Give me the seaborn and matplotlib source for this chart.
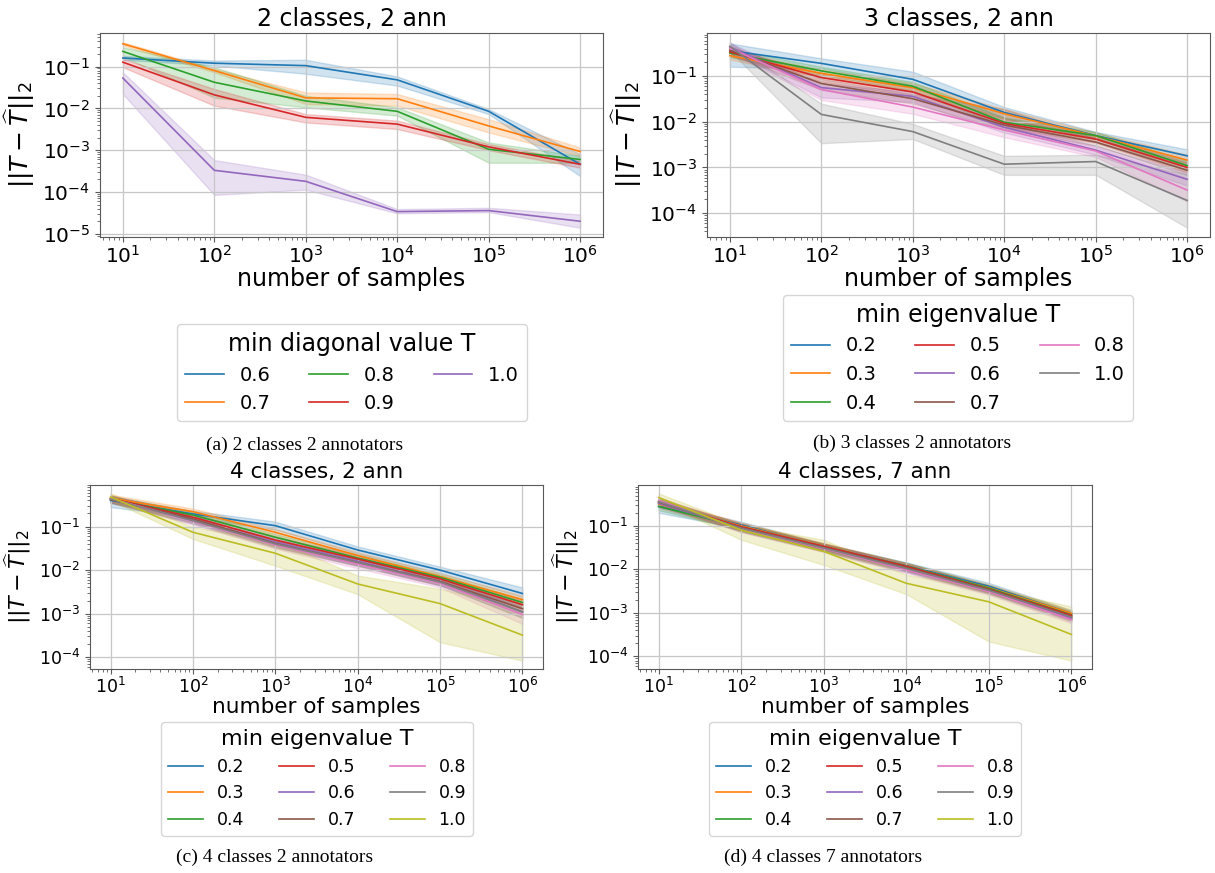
# %%
import pandas as pd
import matplotlib
matplotlib.use("Agg")
import matplotlib.pyplot as plt
import seaborn as sns

# number of samples on the x axis (shared by every panel)
n_samples = [10, 100, 1000, 10000, 100000, 1000000]

# (a) 2 classes, 2 ann  -- min diagonal value T
a_mid = {
    "0.6": [0.16, 0.12, 0.105, 0.048, 0.0085, 0.00046],
    "0.7": [0.35, 0.08, 0.0178, 0.017, 0.0038, 0.00093],
    "0.8": [0.23, 0.042, 0.015, 0.0085, 0.00105, 0.0006],
    "0.9": [0.127, 0.021, 0.0061, 0.0042, 0.0012, 0.00046],
    "1.0": [0.053, 0.00033, 0.00018, 3.4e-5, 3.6e-5, 2.0e-5],
}
a_lo = {
    "0.6": [0.145, 0.106, 0.067, 0.035, 0.0073, 0.00024],
    "0.7": [0.32, 0.073, 0.0127, 0.0116, 0.00265, 0.00073],
    "0.8": [0.17, 0.018, 0.0106, 0.0067, 0.0005, 0.0005],
    "0.9": [0.096, 0.0116, 0.0046, 0.0032, 0.001, 0.00038],
    "1.0": [0.022, 8.5e-5, 1.14e-4, 3.1e-5, 3.3e-5, 1.4e-5],
}
a_hi = {
    "0.6": [0.18, 0.139, 0.145, 0.058, 0.0096, 0.0008],
    "0.7": [0.38, 0.088, 0.024, 0.022, 0.0055, 0.00116],
    "0.8": [0.29, 0.096, 0.020, 0.0106, 0.00153, 0.00073],
    "0.9": [0.153, 0.029, 0.0073, 0.0051, 0.0014, 0.00055],
    "1.0": [0.073, 5.8e-4, 2.6e-4, 3.9e-5, 4.2e-5, 2.9e-5],
}

# (b) 3 classes, 2 ann  -- min eigenvalue T
b_mid = {
    "0.2": [0.36, 0.19, 0.085, 0.016, 0.005, 0.0018],
    "0.3": [0.28, 0.115, 0.056, 0.015, 0.0049, 0.00145],
    "0.4": [0.32, 0.13, 0.06, 0.0098, 0.005, 0.0011],
    "0.5": [0.34, 0.093, 0.045, 0.0092, 0.0042, 0.001],
    "0.6": [0.43, 0.056, 0.036, 0.0076, 0.0024, 0.00055],
    "0.7": [0.37, 0.069, 0.032, 0.0085, 0.0036, 0.00087],
    "0.8": [0.41, 0.051, 0.021, 0.0066, 0.0023, 0.00032],
    "1.0": [0.45, 0.0145, 0.0061, 0.00118, 0.00135, 0.00019],
}
b_lo = {
    "0.2": [0.16, 0.148, 0.063, 0.012, 0.0042, 0.0012],
    "0.3": [0.23, 0.095, 0.045, 0.012, 0.0041, 0.0011],
    "0.4": [0.26, 0.105, 0.048, 0.0078, 0.0042, 0.00085],
    "0.5": [0.28, 0.076, 0.036, 0.0074, 0.0035, 0.00078],
    "0.6": [0.35, 0.034, 0.027, 0.0058, 0.0019, 0.0004],
    "0.7": [0.30, 0.05, 0.025, 0.0068, 0.003, 0.00068],
    "0.8": [0.33, 0.03, 0.015, 0.0046, 0.0017, 0.00018],
    "1.0": [0.36, 0.0034, 0.0042, 0.00069, 0.00069, 4.8e-5],
}
b_hi = {
    "0.2": [0.52, 0.245, 0.125, 0.021, 0.006, 0.0025],
    "0.3": [0.34, 0.14, 0.07, 0.019, 0.0058, 0.0019],
    "0.4": [0.39, 0.16, 0.075, 0.0125, 0.006, 0.0014],
    "0.5": [0.41, 0.115, 0.056, 0.0115, 0.005, 0.0013],
    "0.6": [0.53, 0.068, 0.046, 0.0098, 0.003, 0.00077],
    "0.7": [0.45, 0.088, 0.04, 0.019, 0.0044, 0.0011],
    "0.8": [0.50, 0.063, 0.03, 0.0086, 0.0028, 0.0006],
    "1.0": [0.55, 0.025, 0.009, 0.0018, 0.0019, 0.0007],
}

# (c) 4 classes, 2 ann
c_mid = {
    "0.2": [0.40, 0.195, 0.105, 0.029, 0.010, 0.0029],
    "0.3": [0.45, 0.22, 0.074, 0.0216, 0.0071, 0.0021],
    "0.4": [0.42, 0.185, 0.057, 0.019, 0.0068, 0.0018],
    "0.5": [0.44, 0.164, 0.049, 0.018, 0.0063, 0.0016],
    "0.6": [0.43, 0.142, 0.044, 0.016, 0.0055, 0.0011],
    "0.7": [0.42, 0.15, 0.041, 0.015, 0.0055, 0.0013],
    "0.8": [0.44, 0.133, 0.038, 0.0138, 0.005, 0.00095],
    "0.9": [0.43, 0.137, 0.040, 0.015, 0.0053, 0.0011],
    "1.0": [0.48, 0.074, 0.0244, 0.0048, 0.0017, 0.00032],
}
c_lo = {
    "0.2": [0.28, 0.165, 0.085, 0.024, 0.0085, 0.0024],
    "0.3": [0.38, 0.19, 0.062, 0.018, 0.006, 0.0017],
    "0.4": [0.35, 0.155, 0.048, 0.016, 0.0057, 0.0015],
    "0.5": [0.37, 0.14, 0.041, 0.015, 0.0053, 0.0013],
    "0.6": [0.36, 0.12, 0.036, 0.013, 0.0045, 0.0008],
    "0.7": [0.35, 0.125, 0.034, 0.0125, 0.0045, 0.001],
    "0.8": [0.37, 0.11, 0.031, 0.011, 0.004, 0.00058],
    "0.9": [0.36, 0.115, 0.033, 0.0125, 0.0044, 0.0008],
    "1.0": [0.40, 0.052, 0.0126, 0.0028, 0.00022, 8.3e-5],
}
c_hi = {
    "0.2": [0.50, 0.23, 0.13, 0.035, 0.012, 0.004],
    "0.3": [0.54, 0.26, 0.088, 0.026, 0.0085, 0.0026],
    "0.4": [0.50, 0.22, 0.068, 0.023, 0.008, 0.0022],
    "0.5": [0.52, 0.195, 0.058, 0.022, 0.0075, 0.002],
    "0.6": [0.51, 0.17, 0.053, 0.019, 0.0066, 0.0014],
    "0.7": [0.50, 0.18, 0.049, 0.018, 0.0066, 0.0016],
    "0.8": [0.52, 0.16, 0.046, 0.0165, 0.006, 0.0014],
    "0.9": [0.51, 0.165, 0.048, 0.018, 0.0064, 0.0014],
    "1.0": [0.58, 0.097, 0.048, 0.0075, 0.0037, 0.0014],
}

# (d) 4 classes, 7 ann
d_mid = {
    "0.2": [0.28, 0.105, 0.033, 0.012, 0.0041, 0.00096],
    "0.3": [0.32, 0.10, 0.034, 0.0115, 0.0038, 0.00098],
    "0.4": [0.28, 0.095, 0.033, 0.012, 0.0037, 0.0009],
    "0.5": [0.36, 0.095, 0.034, 0.0118, 0.0035, 0.00088],
    "0.6": [0.33, 0.09, 0.031, 0.0105, 0.0033, 0.00075],
    "0.7": [0.35, 0.09, 0.032, 0.011, 0.0034, 0.00082],
    "0.8": [0.38, 0.085, 0.030, 0.0098, 0.0031, 0.0007],
    "0.9": [0.36, 0.088, 0.031, 0.0105, 0.0033, 0.0008],
    "1.0": [0.45, 0.08, 0.026, 0.0048, 0.0018, 0.00032],
}
d_lo = {
    "0.2": [0.20, 0.088, 0.028, 0.010, 0.0035, 0.0008],
    "0.3": [0.26, 0.085, 0.029, 0.0097, 0.0032, 0.00082],
    "0.4": [0.23, 0.08, 0.028, 0.010, 0.0031, 0.00076],
    "0.5": [0.30, 0.08, 0.029, 0.0099, 0.003, 0.00074],
    "0.6": [0.27, 0.076, 0.026, 0.0088, 0.0028, 0.00063],
    "0.7": [0.29, 0.076, 0.027, 0.0092, 0.0029, 0.00069],
    "0.8": [0.31, 0.071, 0.025, 0.0082, 0.0026, 0.00058],
    "0.9": [0.30, 0.074, 0.026, 0.0088, 0.0028, 0.00067],
    "1.0": [0.37, 0.048, 0.0127, 0.0027, 0.00022, 8e-5],
}
d_hi = {
    "0.2": [0.34, 0.125, 0.039, 0.0145, 0.0049, 0.00115],
    "0.3": [0.39, 0.12, 0.04, 0.0138, 0.0045, 0.00117],
    "0.4": [0.34, 0.114, 0.039, 0.0144, 0.0044, 0.00108],
    "0.5": [0.43, 0.114, 0.04, 0.014, 0.0042, 0.00105],
    "0.6": [0.40, 0.108, 0.037, 0.0125, 0.0039, 0.0009],
    "0.7": [0.42, 0.108, 0.038, 0.013, 0.004, 0.00098],
    "0.8": [0.46, 0.102, 0.036, 0.0117, 0.0037, 0.00084],
    "0.9": [0.43, 0.105, 0.037, 0.0125, 0.0039, 0.00095],
    "1.0": [0.56, 0.105, 0.048, 0.0075, 0.0037, 0.0014],
}

titles = ["2 classes, 2 ann", "3 classes, 2 ann", "4 classes, 2 ann", "4 classes, 7 ann"]
legend_titles = ["min diagonal value T", "min eigenvalue T", "min eigenvalue T", "min eigenvalue T"]
captions = ["(a) 2 classes 2 annotators", "(b) 3 classes 2 annotators",
            "(c) 4 classes 2 annotators", "(d) 4 classes 7 annotators"]


def long_form(mid, lo, hi):
    # three rows per point: median gives the line, min/max give the band
    rows = []
    for key in mid:
        for arr in (lo[key], mid[key], hi[key]):
            for n, v in zip(n_samples, arr):
                rows.append({"n": n, "err": v, "T": key})
    return pd.DataFrame(rows)


W, H = 1215, 873


def px_rect(left, top, right, bottom):
    return [left / W, 1 - bottom / H, (right - left) / W, (bottom - top) / H]


fig = plt.figure(figsize=(W / 100, H / 100), dpi=100)

# layout: axes rect (px), legend top-centre (px), caption centre (px), font sizes
layout = [
    dict(rect=px_rect(100, 33, 603, 237), leg=(352, 324), cap=(305, 445), big=17, tick=14.5, ylab=18, lfs=14, legt=17),
    dict(rect=px_rect(707, 33, 1210, 237), leg=(958, 295), cap=(912, 443), big=17, tick=14.5, ylab=18, lfs=14, legt=17),
    dict(rect=px_rect(90, 485, 543, 669), leg=(317, 722), cap=(275, 857), big=15.5, tick=12.5, ylab=16, lfs=12.5, legt=16),
    dict(rect=px_rect(638, 485, 1092, 669), leg=(865, 722), cap=(823, 857), big=15.5, tick=12.5, ylab=16, lfs=12.5, legt=16),
]
datasets = [(a_mid, a_lo, a_hi), (b_mid, b_lo, b_hi), (c_mid, c_lo, c_hi), (d_mid, d_lo, d_hi)]

for i, (mid, lo, hi) in enumerate(datasets):
    lay = layout[i]
    ax = fig.add_axes(lay["rect"])
    ax.set_xscale("log")
    ax.set_yscale("log")
    df = long_form(mid, lo, hi)
    labels = list(mid.keys())
    sns.lineplot(data=df, x="n", y="err", hue="T", hue_order=labels,
                 palette=sns.color_palette("tab10", len(labels)),
                 estimator="median", errorbar=("pi", 100), lw=1.2, ax=ax)
    ax.grid(True, which="major", color="0.78", lw=0.9)
    for sp in ax.spines.values():
        sp.set_color("0.35")
    ax.tick_params(which="both", colors="0.35", labelcolor="black", labelsize=lay["tick"])
    ax.tick_params(axis="x", which="major", pad=2)
    ax.set_title(titles[i], fontsize=lay["big"], pad=5)
    ax.set_xlabel("number of samples", fontsize=lay["big"], labelpad=0)
    ax.set_ylabel(r"$||T - \widehat{T}||_2$", fontsize=lay["ylab"])
    sns.move_legend(ax, "upper center",
                    bbox_to_anchor=(lay["leg"][0] / W, 1 - lay["leg"][1] / H),
                    bbox_transform=fig.transFigure, borderaxespad=0, ncol=3,
                    title=legend_titles[i], fontsize=lay["lfs"], title_fontsize=lay["legt"],
                    frameon=True)
    fig.text(lay["cap"][0] / W, 1 - lay["cap"][1] / H, captions[i],
             ha="center", va="center", family="Liberation Serif", fontsize=14)

fig.savefig("out.png", dpi=100)
